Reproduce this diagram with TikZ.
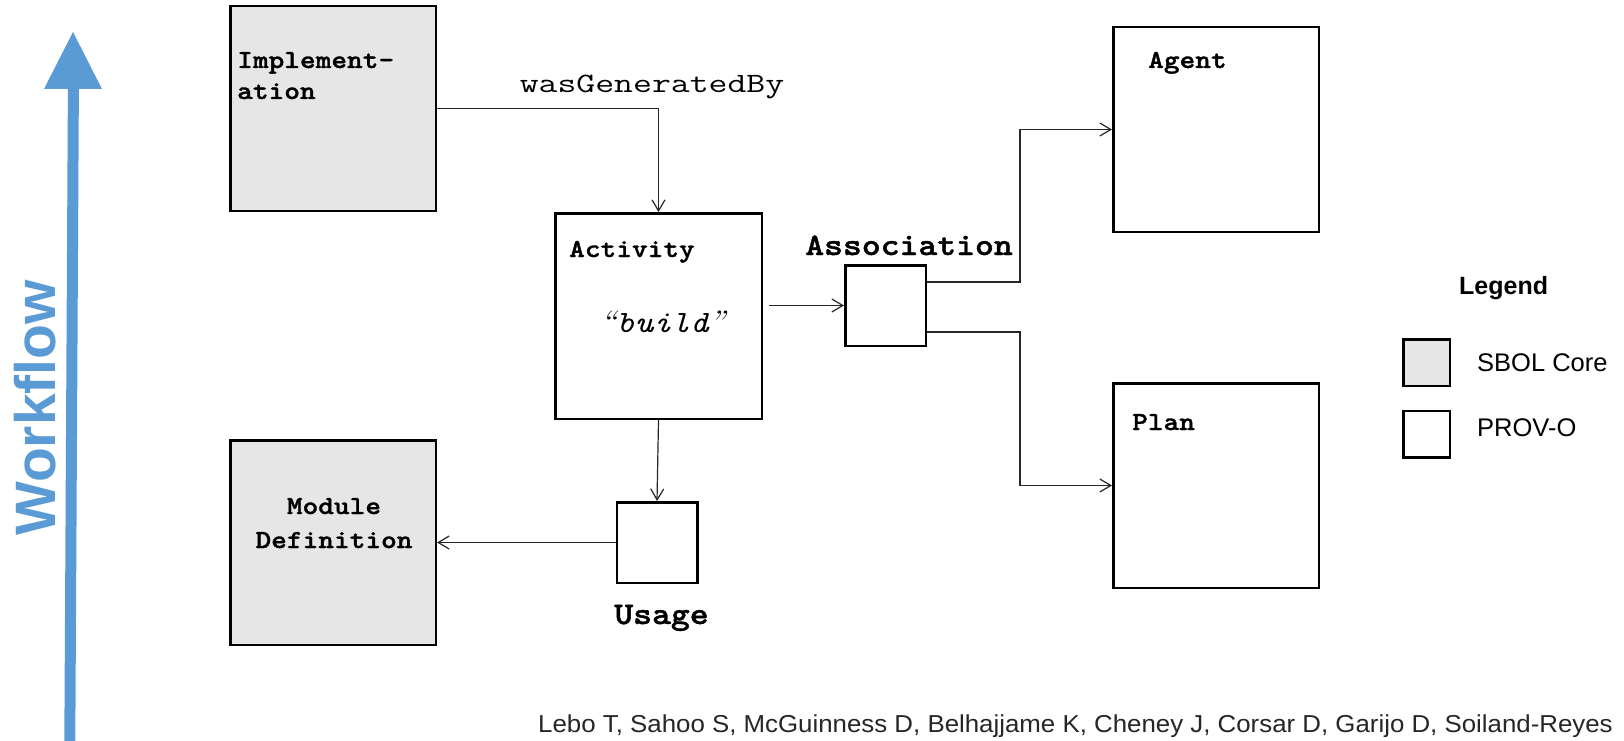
\documentclass[tikz,border=0pt]{standalone}
\usepackage{fontspec}
\usepackage{graphicx}
\usetikzlibrary{arrows.meta}
\newfontfamily\arialf{Liberation Sans}
\newfontfamily\monoheavy{lmmonolt10-bold.otf}[FakeBold=1.2]
\definecolor{flowblue}{HTML}{5B9BD5}
\definecolor{coregray}{HTML}{E6E6E6}
\newcommand{\stretchx}[2]{\scalebox{#1}[1]{#2}}
\tikzset{
  box/.style={draw=black, line width=2.5pt, inner sep=0pt},
  core/.style={box, fill=coregray},
  prov/.style={box, fill=white},
  bigbox/.style={minimum width=205.5pt, minimum height=204.5pt},
  smallbox/.style={minimum width=80.5pt, minimum height=80.5pt},
  legbox/.style={minimum width=46.5pt, minimum height=46.5pt},
  conn/.style={line width=1.2pt, draw=black!85, -{Straight Barb[length=11pt,width=13pt]}},
  lbl/.style={font=\monoheavy\fontsize{26}{31}\selectfont, inner sep=0pt},
  biglbl/.style={font=\monoheavy\fontsize{31.5}{36}\selectfont, inner sep=0pt},
  itlbl/.style={font=\fontsize{31}{36}\selectfont\ttfamily\itshape, inner sep=0pt},
  relbl/.style={font=\fontsize{28}{32}\selectfont\ttfamily, inner sep=0pt},
  sanslbl/.style={font=\arialf\fontsize{25.5}{30}\selectfont, inner sep=0pt},
}
\begin{document}
\begin{tikzpicture}[x=1pt,y=1pt]
\useasboundingbox (0,0) rectangle (1624,-741);

% workflow arrow on the left
\fill[flowblue] (44,-89) -- (102,-89) -- (73,-32) -- cycle;
\draw[flowblue, line width=11pt] (69.8,-745) -- (73.4,-88);
\node[rotate=90, anchor=base, text=flowblue, inner sep=0pt,
      font=\arialf\bfseries\fontsize{57}{60}\selectfont] (wf) at (55,-408) {Workflow};

% class boxes
\node[core, bigbox] (impl) at (333,-108.5) {};
\node[core, bigbox] (mod) at (333,-542.5) {};
\node[prov, minimum width=206.5pt, minimum height=205.5pt] (act) at (658.5,-316) {};
\node[prov, smallbox] (assoc) at (885.5,-305.5) {};
\node[prov, smallbox] (use) at (657,-542.5) {};
\node[prov, bigbox] (agent) at (1216,-129.5) {};
\node[prov, bigbox] (plan) at (1216,-485.5) {};

% box labels
\node[lbl, anchor=base west] (implA) at (237,-68) {\stretchx{1.15}{Implement-}};
\node[lbl, anchor=base west] (implB) at (237,-99) {\stretchx{1.15}{ation}};
\node[lbl, anchor=base] (modA) at (334,-514) {\stretchx{1.15}{Module}};
\node[lbl, anchor=base] (modB) at (334,-548) {\stretchx{1.15}{Definition}};
\node[lbl, anchor=base west] (actL) at (569,-257) {\stretchx{1.15}{Activity}};
\node[itlbl, anchor=base] (buildL) at (662.5,-332) {\stretchx{1.13}{{\rmfamily“}build{\rmfamily”}}};
\node[biglbl, anchor=base] (assocL) at (909,-255) {\stretchx{1.14}{Association}};
\node[biglbl, anchor=base] (useL) at (661.5,-624) {\stretchx{1.14}{Usage}};
\node[lbl, anchor=base west] (agentL) at (1148,-68) {\stretchx{1.15}{Agent}};
\node[lbl, anchor=base west] (planL) at (1132,-430) {\stretchx{1.15}{Plan}};
\node[relbl, anchor=base] (wgb) at (652,-93) {\stretchx{1.31}{wasGeneratedBy}};

% connectors
\draw[conn] (impl.east) -| (act.north);
\draw[conn] (act.south) -- (use.north);
\draw[conn] (use.west) -- (mod.east);
\draw[conn, shorten <=6pt] (act.east |- assoc.west) -- (assoc.west);
\draw[conn] ([yshift=23.5pt]assoc.east) -- ++(93,0) |- (agent.west);
\draw[conn] ([yshift=-26.5pt]assoc.east) -- ++(93,0) |- (plan.west);

% legend
\node[inner sep=0pt, anchor=base west, font=\arialf\bfseries\fontsize{25}{30}\selectfont] (legT) at (1459,-294) {Legend};
\node[core, legbox] (legCore) at (1426.5,-362.5) {};
\node[prov, legbox] (legProv) at (1426.5,-434) {};
\node[sanslbl, anchor=base west] (legCoreL) at (1477,-371) {SBOL Core};
\node[sanslbl, anchor=base west] (legProvL) at (1477,-436) {PROV-O};

% reference line
\node[anchor=base west, inner sep=0pt, text=black!85, font=\arialf\fontsize{24.5}{28}\selectfont] (cite) at (538,-732)
  {\stretchx{1.055}{Lebo T, Sahoo S, McGuinness D, Belhajjame K, Cheney J, Corsar D, Garijo D, Soiland-Reyes}};
\end{tikzpicture}
\end{document}
